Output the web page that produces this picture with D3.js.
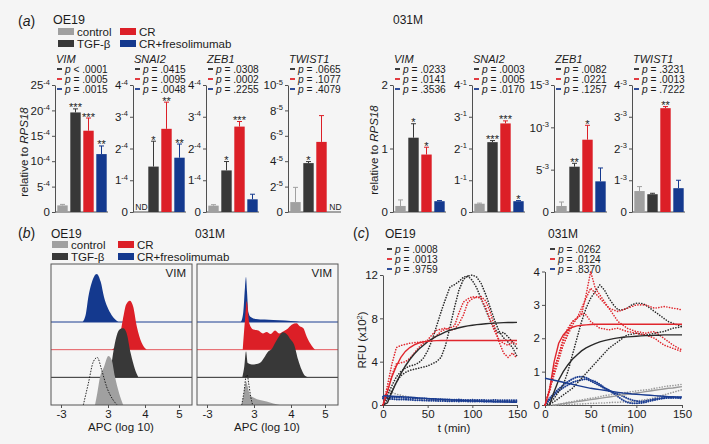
<!DOCTYPE html>
<html><head><meta charset="utf-8">
<script src="https://cdn.jsdelivr.net/npm/d3@7/dist/d3.min.js"></script>
<style>
html,body{margin:0;padding:0;background:#f5f5f5;}
svg{display:block;font-family:"Liberation Sans",Arial,Helvetica,sans-serif;}
</style></head><body>
<svg width="709" height="444"></svg>
<script>
// ================= DATA =================
const groups = ["control", "TGF-β", "CR", "CR+fresolimumab"];
const genes = ["VIM", "SNAI2", "ZEB1", "TWIST1"];
const cellLines = ["OE19", "031M"];

// (a) expression relative to RPS18 (in units of the axis exponent); null = ND
const oe19Means  = [[1.3, 19.6, 16.0, 11.4], [null, 1.43, 2.62, 1.71], [0.2, 1.31, 2.69, 0.4], [0.78, 3.85, 5.52, null]];
const oe19Errors = [[0.2, 0.7, 2.5, 1.6], [null, 0.8, 0.84, 0.43], [0.03, 0.28, 0.16, 0.16], [1.16, 0.12, 2.07, null]];
const oe19Stars  = [["", "***", "***", "**"], ["", "*", "**", "**"], ["", "*", "***", ""], ["", "*", "", ""]];
const oe19P = [["< .0001", "= .0005", "= .0015"], ["= .0415", "= .0095", "= .0048"], ["= .0308", "= .0002", "= .2255"], ["= .0665", "= .1077", "= .4079"]];
const oe19Ticks = [[0, 5, 10, 15, 20, 25], [0, 1, 2, 3, 4], [0, 1, 2, 3, 4], [0, 2, 4, 6, 8, 10]];
const oe19Exp = ["-4", "-4", "-4", "-5"];

const m031Means  = [[0.095, 1.17, 0.905, 0.17], [0.26, 2.2, 2.79, 0.34], [0.71, 5.35, 8.54, 3.62], [0.66, 0.56, 3.27, 0.75]];
const m031Errors = [[0.095, 0.22, 0.115, 0.01], [0.02, 0.05, 0.08, 0.02], [0.47, 0.4, 1.7, 1.58], [0.14, 0.03, 0.05, 0.25]];
const m031Stars  = [["", "*", "*", ""], ["", "***", "***", "*"], ["", "**", "*", ""], ["", "", "**", ""]];
const m031P = [["= .0233", "= .0141", "= .3536"], ["= .0003", "= .0005", "= .0170"], ["= .0082", "= .0221", "= .1257"], ["= .3231", "= .0013", "= .7222"]];
const m031Ticks = [[0, 1, 2], [0, 1, 2, 3, 4], [0, 5, 10, 15], [0, 1, 2, 3, 4]];
const m031Exp = [null, "-1", "-3", "-3"];

// (b) VIM flow histograms: [APC display value, % of max]
const apcTicks = [-3, 3, 4, 5];
const apcTickLabels = ["-3", "3", "4", "5"];
const oe19HistControl = [[1.34,0],[1.63,24],[1.98,57],[2.49,78],[3.01,100],[3.10,92],[3.19,57],[3.30,24],[3.41,0]];
const oe19HistTGF     = [[3.05,0],[3.14,50],[3.23,84],[3.34,99],[3.41,100],[3.50,91],[3.61,50],[3.73,16],[3.82,0]];
const oe19HistCR      = [[3.10,0],[3.28,14],[3.40,61],[3.49,92],[3.59,100],[3.68,88],[3.78,47],[3.91,14],[4.05,0]];
const oe19HistFreso   = [[-0.23,0],[0.19,18],[0.49,51],[0.92,80],[1.56,98],[2.07,82],[2.49,51],[2.91,31],[3.10,14],[3.28,0]];
const oe19HistIso     = [[-0.15,0],[0.49,44],[1.12,88],[1.63,97],[2.20,71],[2.83,37],[3.14,10],[3.25,0]];
const m031HistControl = [[1.43,0],[1.72,24],[1.98,48],[2.20,37],[2.49,20],[3.00,15],[3.16,10],[3.34,7],[3.52,3],[3.70,0]];
const m031HistTGF     = [[1.51,0],[1.76,22],[1.98,53],[2.20,29],[2.71,26],[3.07,27],[3.21,33],[3.30,43],[3.39,53],[3.48,58],[3.57,70],[3.68,84],[3.79,92],[3.90,87],[3.99,77],[4.09,67],[4.21,36],[4.31,16],[4.41,3],[4.51,0]];
const m031HistCR      = [[1.56,0],[1.85,61],[2.07,99],[2.40,54],[2.91,41],[3.12,39],[3.24,33],[3.34,36],[3.45,32],[3.57,39],[3.68,33],[3.79,37],[3.90,42],[4.02,51],[4.16,54],[4.26,48],[4.36,44],[4.46,27],[4.61,8],[4.71,0]];
const m031HistFreso   = [[1.34,0],[1.63,20],[1.85,71],[1.98,92],[2.11,61],[2.28,20],[2.58,10],[3.05,6],[3.52,4],[4.17,1],[4.26,0]];
const m031HistIso     = [[1.43,0],[1.76,31],[1.98,58],[2.14,61],[2.32,44],[2.58,17],[2.83,0]];

// (c) RFU kinetics (x10^2), sampled every 5 min
const tMin = [0,5,10,15,20,25,30,35,40,45,50,55,60,65,70,75,80,85,90,95,100,105,110,115,120,125,130,135,140,145,150];
const oe19FitTGF   = [0,0.2,1.2,2.1,2.9,3.6,4.2,4.7,5.15,5.5,5.85,6.1,6.35,6.55,6.75,6.9,7.02,7.13,7.22,7.3,7.36,7.42,7.46,7.5,7.53,7.56,7.58,7.6,7.61,7.62,7.63];
const oe19FitCR    = [0,1.3,2.6,3.6,4.4,4.95,5.3,5.55,5.72,5.83,5.89,5.92,5.94,5.95,5.95,5.95,5.95,5.95,5.95,5.95,5.95,5.95,5.95,5.95,5.95,5.95,5.95,5.95,5.95,5.95,5.95];
const oe19FitFreso = [0.85,0.83,0.81,0.79,0.77,0.75,0.72,0.69,0.66,0.63,0.6,0.58,0.55,0.53,0.51,0.48,0.46,0.44,0.42,0.4,0.38,0.37,0.35,0.34,0.32,0.3,0.29,0.28,0.27,0.26,0.25];
const oe19RepTGF1  = [0,0.9,1.8,2.6,3.1,3.4,3.6,3.7,3.9,4.3,5.0,6.0,7.3,8.6,9.8,10.9,11.1,11.4,11.8,11.9,11.5,10.8,9.8,8.8,7.8,7.0,6.6,6.7,6.3,5.8,5.2];
const oe19RepTGF2  = [0,0.5,1.3,2.1,2.7,3.0,3.2,3.3,3.4,3.5,3.6,3.8,4.0,4.4,5.5,7.2,9.0,10.6,11.6,11.9,12.0,11.8,11.2,10.2,9.0,7.8,6.8,6.2,5.8,5.3,4.5];
const oe19RepCR1   = [0,1.8,3.8,5.3,5.5,5.6,5.7,5.75,5.8,5.85,5.9,6.1,6.4,6.8,7.0,7.1,7.3,8.5,9.5,9.8,10.0,9.9,10.0,9.6,8.6,7.2,5.8,4.8,4.4,4.8,4.3];
const oe19RepCR2   = [0,1.2,2.8,3.8,3.9,4.0,4.3,4.8,5.3,5.7,6.0,6.5,6.9,7.0,7.1,6.9,7.0,7.5,8.3,9.5,9.8,10.0,9.8,9.0,7.8,6.8,6.0,5.7,5.5,5.8,5.6];
const oe19RepFreso1 = [0.75,0.72,0.7,0.7,0.68,0.65,0.66,0.62,0.6,0.6,0.58,0.55,0.55,0.52,0.5,0.5,0.48,0.5,0.47,0.45,0.48,0.45,0.47,0.45,0.44,0.46,0.44,0.45,0.43,0.45,0.44];
const oe19RepFreso2 = [0.6,0.58,0.55,0.52,0.5,0.5,0.48,0.45,0.45,0.42,0.4,0.4,0.38,0.38,0.36,0.35,0.35,0.33,0.35,0.33,0.32,0.34,0.32,0.3,0.32,0.3,0.3,0.32,0.3,0.3,0.3];
const oe19RepControl1 = [null,1.3,1.15,1.0,0.9,0.8,0.72,0.65,0.6,0.55,0.5,0.48,0.45,0.44,0.42,0.4,0.4,0.38,0.38,0.36,0.36,0.35,0.35,0.34,0.34,0.33,0.33,0.32,0.32,0.31,0.31];

const m031FitTGF   = [null,0,0.4,0.75,1.0,1.2,1.37,1.5,1.62,1.71,1.78,1.84,1.89,1.93,1.96,1.99,2.01,2.03,2.04,2.05,2.06,2.07,2.08,2.08,2.09,2.09,2.1,2.1,2.1,2.1,2.1];
const m031FitCR    = [0,0.45,1.3,1.85,2.1,2.25,2.33,2.37,2.39,2.4,2.41,2.42,2.42,2.42,2.42,2.42,2.42,2.42,2.42,2.42,2.42,2.42,2.42,2.42,2.42,2.42,2.42,2.42,2.42,2.42,2.42];
const m031FitFreso = [0.8,0.77,0.74,0.71,0.68,0.65,0.62,0.59,0.56,0.53,0.5,0.48,0.46,0.44,0.42,0.4,0.38,0.36,0.35,0.33,0.32,0.31,0.3,0.29,0.28,0.27,0.26,0.25,0.25,0.24,0.24];
const m031FitControl = [null,null,0,0.02,0.04,0.06,0.08,0.1,0.12,0.14,0.16,0.18,0.2,0.22,0.24,0.26,0.28,0.3,0.32,0.34,0.36,0.38,0.4,0.42,0.44,0.46,0.48,0.5,0.51,0.53,0.55];
const m031RepControl1 = [0,0,0,0.02,0.05,0.08,0.1,0.13,0.15,0.18,0.2,0.22,0.25,0.28,0.3,0.33,0.35,0.37,0.38,0.4,0.42,0.44,0.45,0.47,0.5,0.52,0.55,0.57,0.58,0.6,0.62];
const m031RepControl2 = [0,0,0,0,0.01,0.02,0.02,0.03,0.03,0.04,0.05,0.05,0.06,0.06,0.07,0.08,0.08,0.09,0.1,0.1,0.12,0.14,0.16,0.18,0.22,0.26,0.3,0.34,0.38,0.42,0.46];
const m031RepFreso1 = [0,0.2,0.35,0.48,0.6,0.7,0.78,0.84,0.85,0.82,0.75,0.7,0.62,0.52,0.45,0.35,0.25,0.15,0.08,0.05,0.05,0.06,0.08,0.12,0.15,0.18,0.2,0.22,0.22,0.23,0.22];
const m031RepFreso2 = [0,0.15,0.3,0.42,0.52,0.6,0.68,0.72,0.75,0.78,0.72,0.65,0.58,0.5,0.42,0.38,0.32,0.27,0.2,0.15,0.12,0.1,0.12,0.15,0.18,0.2,0.21,0.22,0.22,0.21,0.2];
const m031RepCR1 = [0,0.5,1.1,1.5,1.9,2.2,2.5,2.6,2.7,3.3,4.0,3.5,3.3,3.1,2.9,2.85,2.8,2.85,2.9,2.95,3.0,3.0,3.0,2.95,2.9,2.92,2.95,2.93,2.9,2.88,2.85];
const m031RepCR2 = [0,0.4,1.0,1.5,2.0,2.3,2.5,2.6,2.75,2.7,2.5,2.4,2.3,2.28,2.25,2.28,2.3,2.25,2.2,2.18,2.15,2.12,2.1,2.05,2.0,1.9,1.8,1.75,1.7,1.65,1.6];
const m031RepCR3 = [0,0.45,0.9,1.35,1.8,2.1,2.4,2.6,2.9,3.2,3.5,3.35,3.2,3.05,2.9,2.7,2.5,2.4,2.3,2.25,2.2,2.18,2.15,2.18,2.2,2.1,2.0,1.9,1.8,1.72,1.65];
const m031RepTGF1 = [0,0.05,0.2,0.4,0.6,1.0,1.5,2.0,2.5,2.9,3.2,3.4,3.6,3.45,3.2,3.0,2.85,2.85,2.9,3.0,3.05,3.05,3.0,2.9,2.8,2.7,2.6,2.5,2.45,2.4,2.35];
const m031RepTGF2 = [0,0.02,0.1,0.2,0.3,0.4,0.5,0.65,0.8,0.95,1.1,1.25,1.4,1.55,1.7,1.8,1.9,2.0,2.1,2.12,2.15,2.12,2.1,2.12,2.15,2.18,2.2,2.25,2.3,2.32,2.35];

const cP = [[".0008", ".0013", ".9759"], [".0262", ".0124", ".8370"]];
const timeTicks = [0, 50, 100, 150];

// ================= STYLE =================
const BG = "#f5f5f5";
const COLORS = ["#a0a0a0", "#383838", "#dc1f27", "#14398e"];
const LINECOL = ["#9a9a9a", "#2a2a2a", "#e0262d", "#1a3c90"];
const INK = "#1b1b1b";
const AX = "#505050";
const FS = 11.5;   // tick / axis label font size
const PFS = 10.2;  // p-value font size

const svg = d3.select("svg");
svg.append("rect").attr("width", 709).attr("height", 444).attr("fill", BG);

function styleAxis(ax, fs) {
  ax.attr("font-family", null).attr("font-size", fs || FS);
  ax.select(".domain").attr("stroke", AX);
  ax.selectAll(".tick line").attr("stroke", AX);
  ax.selectAll(".tick text").attr("fill", INK);
}
function label(x, y, parts, size, anchor) {
  const t = svg.append("text").attr("x", x).attr("y", y).attr("font-size", size)
    .attr("fill", INK).attr("text-anchor", anchor || "start");
  parts.forEach(p => {
    const s = t.append("tspan").text(p[0]);
    if (p[1]) s.attr("font-style", "italic");
  });
  return t;
}
function legend(x, y, colDx) {
  groups.forEach((name, i) => {
    const col = i < 2 ? 0 : 1, row = i % 2;
    const lx = x + col * colDx, ly = y + row * 12;
    svg.append("rect").attr("x", lx).attr("y", ly).attr("width", 16).attr("height", 7).attr("fill", COLORS[i]);
    label(lx + 19, ly + 8, [[name]], 11.5);
  });
}

// ================= PANEL (a) =================
label(18, 26, [["("], ["a", true], [")"]], 14);
label(53, 24, [["OE19"]], 12.5);
label(393, 24, [["031M"]], 12);
legend(58, 28, 62);

const barAxisX = [55, 133, 206, 288, 393, 472, 554, 632];
function barChart(x0, gene, means, errs, stars, ticks, exp, pv) {
  const g = svg.append("g");
  const y = d3.scaleLinear().domain([0, ticks[ticks.length - 1]]).range([212, 85]);
  const x = d3.scaleBand().domain(groups).range([x0 + 1, x0 + 53]).paddingInner(0.2).paddingOuter(0.1);
  const ax = g.append("g").attr("transform", `translate(${x0},0)`)
    .call(d3.axisLeft(y).tickValues(ticks).tickSize(3).tickSizeOuter(0).tickPadding(2));
  styleAxis(ax, FS);
  ax.selectAll(".tick text").each(function (d) {
    const t = d3.select(this); t.text(null);
    t.append("tspan").text(d);
    if (d !== 0 && exp) t.append("tspan").attr("dy", -4.5).attr("font-size", 7.5).text(exp);
  });
  g.append("line").attr("x1", x0).attr("x2", x0 + 53).attr("y1", y(0)).attr("y2", y(0)).attr("stroke", AX);
  groups.forEach((gr, i) => {
    const cx = x(gr) + x.bandwidth() / 2;
    if (means[i] == null) {
      g.append("text").attr("x", cx + 1).attr("y", y(0) - 2).attr("font-size", 8.5).attr("text-anchor", "middle").attr("fill", INK).text("ND");
      return;
    }
    const top = y(means[i] + errs[i]);
    g.append("line").attr("x1", cx).attr("x2", cx).attr("y1", y(means[i])).attr("y2", top).attr("stroke", COLORS[i]).attr("stroke-width", 1);
    g.append("line").attr("x1", cx - 2.5).attr("x2", cx + 2.5).attr("y1", top).attr("y2", top).attr("stroke", COLORS[i]).attr("stroke-width", 1);
    g.append("rect").attr("x", x(gr)).attr("width", x.bandwidth()).attr("y", y(means[i])).attr("height", y(0) - y(means[i])).attr("fill", COLORS[i]);
    if (stars[i]) g.append("text").attr("x", cx).attr("y", top + 2.5).attr("font-size", 11).attr("text-anchor", "middle").attr("fill", INK).text(stars[i]);
  });
  label(x0 + 1, 62.5, [[gene, true]], 11);
  pv.forEach((p, k) => {
    const by = 72.5 + 10 * k;
    g.append("line").attr("x1", x0 + 2).attr("x2", x0 + 7).attr("y1", by - 3.5).attr("y2", by - 3.5).attr("stroke", LINECOL[k + 1]).attr("stroke-width", 1.8);
    label(x0 + 10, by, [["p", true], [" " + p]], PFS);
  });
}
genes.forEach((gene, i) => barChart(barAxisX[i], gene, oe19Means[i], oe19Errors[i], oe19Stars[i], oe19Ticks[i], oe19Exp[i], oe19P[i]));
genes.forEach((gene, i) => barChart(barAxisX[i + 4], gene, m031Means[i], m031Errors[i], m031Stars[i], m031Ticks[i], m031Exp[i], m031P[i]));
[[28, 152], [378, 150]].forEach(([lx, ly]) => {
  label(0, 0, [["relative to "], ["RPS18", true]], 11.5, "middle").attr("transform", `translate(${lx},${ly}) rotate(-90)`);
});

// ================= PANEL (b) =================
label(18, 238, [["("], ["b", true], [")"]], 14);
label(51, 238, [["OE19"]], 12);
label(195, 238, [["031M"]], 12);
legend(52, 241, 66);

function histPanel(x0, hists, iso, id) {
  const W = 141, top = 264, bot = 405;
  const x = d3.scaleLinear().domain(apcTicks).range([x0 + 10, x0 + 57, x0 + 94, x0 + 128]);
  const rowBase = d3.scaleLinear().domain([0, 3]).range([bot, 322]);
  const h = d3.scaleLinear().domain([0, 100]).range([0, 49]);
  const defs = svg.append("defs");
  defs.append("clipPath").attr("id", id).append("rect").attr("x", x0).attr("y", top).attr("width", W).attr("height", bot - top);
  const g = svg.append("g").attr("clip-path", `url(#${id})`);
  for (let r = 3; r >= 0; r--) {
    const base = rowBase(r);
    const area = d3.area().curve(d3.curveMonotoneX).x(d => x(d[0])).y0(base).y1(d => base - h(d[1]));
    g.append("path").attr("d", area(hists[r])).attr("fill", COLORS[r]);
    if (r > 0) g.append("line").attr("x1", x0).attr("x2", x0 + W).attr("y1", base).attr("y2", base)
      .attr("stroke", LINECOL[r]).attr("stroke-width", 1).attr("opacity", r === 2 ? 0.75 : 1);
  }
  const line = d3.line().curve(d3.curveMonotoneX).x(d => x(d[0])).y(d => bot - h(d[1]));
  g.append("path").attr("d", line(iso)).attr("fill", "none").attr("stroke", "#111").attr("stroke-width", 0.9).attr("stroke-dasharray", "1.5,1.3");
  svg.append("rect").attr("x", x0).attr("y", top).attr("width", W).attr("height", bot - top).attr("fill", "none").attr("stroke", "#555").attr("stroke-width", 1);
  const ax = svg.append("g").attr("transform", `translate(0,${bot})`)
    .call(d3.axisBottom(x).tickValues(apcTicks).tickFormat((d, i) => apcTickLabels[i]).tickSize(3).tickSizeOuter(0).tickPadding(2));
  styleAxis(ax, FS);
  ax.select(".domain").remove();
  label(x0 + W - 6, 277, [["VIM"]], 11.5, "end");
  label(x0 + 70, 431, [["APC (log 10)"]], 11.5, "middle");
}
histPanel(51, [oe19HistControl, oe19HistTGF, oe19HistCR, oe19HistFreso], oe19HistIso, "clipL");
histPanel(197, [m031HistControl, m031HistTGF, m031HistCR, m031HistFreso], m031HistIso, "clipR");

// ================= PANEL (c) =================
label(353, 238, [["("], ["c", true], [")"]], 14);
label(385, 238, [["OE19"]], 12);
label(548, 238, [["031M"]], 12);

function timePanel(x0, x1, top, yMax, yTicks, series, pv, pX) {
  const x = d3.scaleLinear().domain([0, 150]).range([x0, x1]);
  const y = d3.scaleLinear().domain([0, yMax]).range([405, top]);
  const ay = svg.append("g").attr("transform", `translate(${x0},0)`)
    .call(d3.axisLeft(y).tickValues(yTicks).tickFormat(d3.format("d")).tickSize(3).tickSizeOuter(0).tickPadding(2));
  styleAxis(ay, FS);
  const axb = svg.append("g").attr("transform", `translate(0,405)`)
    .call(d3.axisBottom(x).tickValues(timeTicks).tickFormat(d3.format("d")).tickSize(3).tickSizeOuter(0).tickPadding(2));
  styleAxis(axb, FS);
  const line = d3.line().defined(d => d != null).curve(d3.curveLinear).x((d, i) => x(tMin[i])).y(d => y(d));
  series.forEach(s => {
    const p = svg.append("path").attr("d", line(s.v)).attr("fill", "none").attr("stroke", LINECOL[s.c]);
    if (s.dot) p.attr("stroke-width", s.c === 3 ? 2 : 1.6).attr("stroke-linecap", "round").attr("stroke-dasharray", s.c === 3 ? "0.1,2.2" : "0.1,2.6");
    else p.attr("stroke-width", 1.4);
  });
  pv.forEach((p, k) => {
    const by = 252.5 + 10 * k;
    svg.append("line").attr("x1", pX).attr("x2", pX + 5).attr("y1", by - 3.5).attr("y2", by - 3.5).attr("stroke", LINECOL[k + 1]).attr("stroke-width", 1.8);
    label(pX + 8, by, [["p", true], [" = " + p]], PFS);
  });
  label((x0 + x1) / 2 + 4, 432, [["t (min)"]], 11.5, "middle");
}
timePanel(383, 517, 275, 12, [0, 4, 8, 12], [
  { v: oe19RepControl1, c: 0, dot: true },
  { v: oe19RepFreso1, c: 3, dot: true }, { v: oe19RepFreso2, c: 3, dot: true },
  { v: oe19RepTGF1, c: 1, dot: true }, { v: oe19RepTGF2, c: 1, dot: true },
  { v: oe19RepCR1, c: 2, dot: true }, { v: oe19RepCR2, c: 2, dot: true },
  { v: oe19FitTGF, c: 1 }, { v: oe19FitCR, c: 2 }, { v: oe19FitFreso, c: 3 }
], cP[0], 387);
timePanel(545, 682, 271.5, 4, [0, 1, 2, 3, 4], [
  { v: m031RepControl1, c: 0, dot: true }, { v: m031RepControl2, c: 0, dot: true },
  { v: m031RepFreso1, c: 3, dot: true }, { v: m031RepFreso2, c: 3, dot: true },
  { v: m031RepTGF1, c: 1, dot: true }, { v: m031RepTGF2, c: 1, dot: true },
  { v: m031RepCR1, c: 2, dot: true }, { v: m031RepCR2, c: 2, dot: true }, { v: m031RepCR3, c: 2, dot: true },
  { v: m031FitControl, c: 0 }, { v: m031FitTGF, c: 1 }, { v: m031FitCR, c: 2 }, { v: m031FitFreso, c: 3 }
], cP[1], 550);
{
  const t = svg.append("text").attr("font-size", 11.5).attr("fill", INK).attr("text-anchor", "middle")
    .attr("transform", "translate(366,340) rotate(-90)");
  t.append("tspan").text("RFU (x10");
  t.append("tspan").attr("dy", -4).attr("font-size", 7.5).text("2");
  t.append("tspan").attr("dy", 4).text(")");
}
</script>
</body></html>
